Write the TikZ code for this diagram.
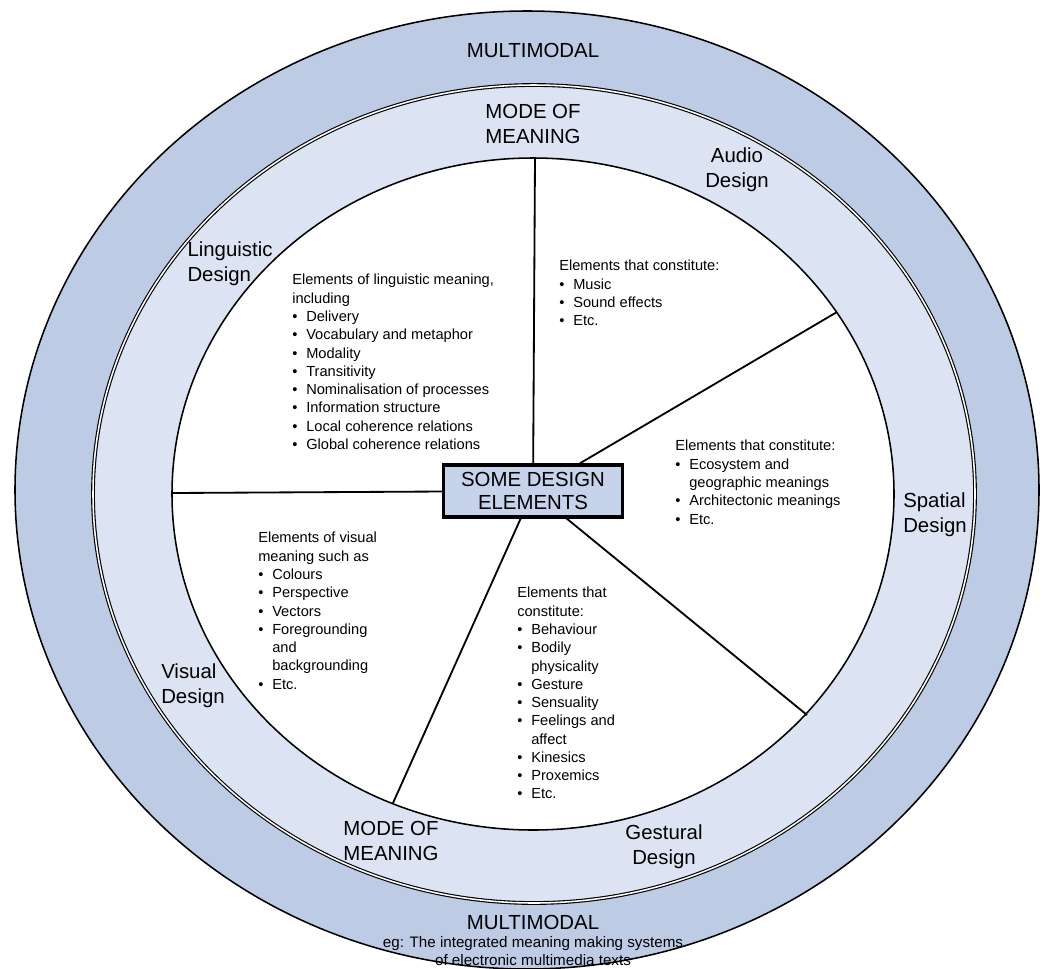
\documentclass[tikz,border=0pt]{standalone}
\usepackage{fontspec}
\setmainfont{Liberation Sans}
\usepackage{tikz}
\usetikzlibrary{positioning}
\definecolor{bandout}{RGB}{189,203,229}
\definecolor{bandin}{RGB}{220,227,242}
\definecolor{corefill}{RGB}{199,211,235}
\newcommand{\bul}{\makebox[0.35cm][l]{\textbullet}}
\newcommand{\cont}{\hspace*{0.35cm}}
\tikzset{
  ringlabel/.style={font=\fontsize{14.5}{17.5}\selectfont, inner sep=0pt},
  elemtext/.style={font=\fontsize{10.4}{13}\selectfont, align=left, anchor=north west, inner sep=0pt},
  spoke/.style={line width=1.3pt}
}

\begin{document}
\begin{tikzpicture}[x=0.025cm, y=-0.025cm]
\useasboundingbox (0,0) rectangle (1045,968);
\fill[bandout] (527,490) ellipse [x radius=512, y radius=479];
\draw[line width=1.1pt] (527,490) ellipse [x radius=512, y radius=479];
\fill[bandin] (534,494) ellipse [x radius=441, y radius=409];
\draw[line width=0.8pt, double=white, double distance=1.1pt] (534,494) ellipse [x radius=441, y radius=409];
\fill[white] (533,494) ellipse [x radius=361, y radius=336];
\draw[line width=1.1pt] (533,494) ellipse [x radius=361, y radius=336];

\coordinate (rimN) at (535,158);
\coordinate (rimNE) at (837,312);
\coordinate (rimW) at (172,493);
\coordinate (rimSW) at (393,803);
\coordinate (rimSE) at (807,715);

\node[draw=black, line width=2.2pt, fill=corefill, minimum width=4.475cm, minimum height=1.3cm, align=center, font=\fontsize{14.5}{16.5}\selectfont] (core) at (533,491) {SOME DESIGN\\ELEMENTS};

\draw[spoke] (rimN) -- (core);
\draw[spoke] (rimNE) -- (core);
\draw[spoke] (rimW) -- (core);
\draw[spoke] (rimSW) -- (core);
\draw[spoke] (rimSE) -- (core);

\node[ringlabel] (multiTop) at (533,50) {MULTIMODAL};
\node[ringlabel, align=center] (modeTop) at (533,124) {MODE OF\\MEANING};
\node[ringlabel, align=center] (audio) at (737,170) {Audio\\Design};
\node[ringlabel, align=left] (ling) at (230,264) {Linguistic\\Design};
\node[ringlabel, align=left] (spatial) at (935,515) {Spatial\\Design};
\node[ringlabel, align=left] (visual) at (193,686) {Visual\\Design};
\node[ringlabel, align=left] (modeBot) at (391,841) {MODE OF\\MEANING};
\node[ringlabel, align=center] (gest) at (664,847) {Gestural\\Design};
\node[ringlabel] (multiBot) at (533,922) {MULTIMODAL};
\node[font=\fontsize{10.8}{12.8}\selectfont, align=center, inner sep=0pt, below=5pt of multiBot] (multiEg) {eg: The integrated meaning making systems\\of electronic multimedia texts};

\node[elemtext] (lingText) at (292,274) {Elements of linguistic meaning,\\including\\\bul Delivery\\\bul Vocabulary and metaphor\\\bul Modality\\\bul Transitivity\\\bul Nominalisation of processes\\\bul Information structure\\\bul Local coherence relations\\\bul Global coherence relations};
\node[elemtext] (audioText) at (559,260) {Elements that constitute:\\\bul Music\\\bul Sound effects\\\bul Etc.};
\node[elemtext] (spatialText) at (675,440) {Elements that constitute:\\\bul Ecosystem and\\\cont geographic meanings\\\bul Architectonic meanings\\\bul Etc.};
\node[elemtext] (visualText) at (258,532) {Elements of visual\\meaning such as\\\bul Colours\\\bul Perspective\\\bul Vectors\\\bul Foregrounding\\\cont and\\\cont backgrounding\\\bul Etc.};
\node[elemtext] (gestText) at (517,587) {Elements that\\constitute:\\\bul Behaviour\\\bul Bodily\\\cont physicality\\\bul Gesture\\\bul Sensuality\\\bul Feelings and\\\cont affect\\\bul Kinesics\\\bul Proxemics\\\bul Etc.};
\end{tikzpicture}
\end{document}
